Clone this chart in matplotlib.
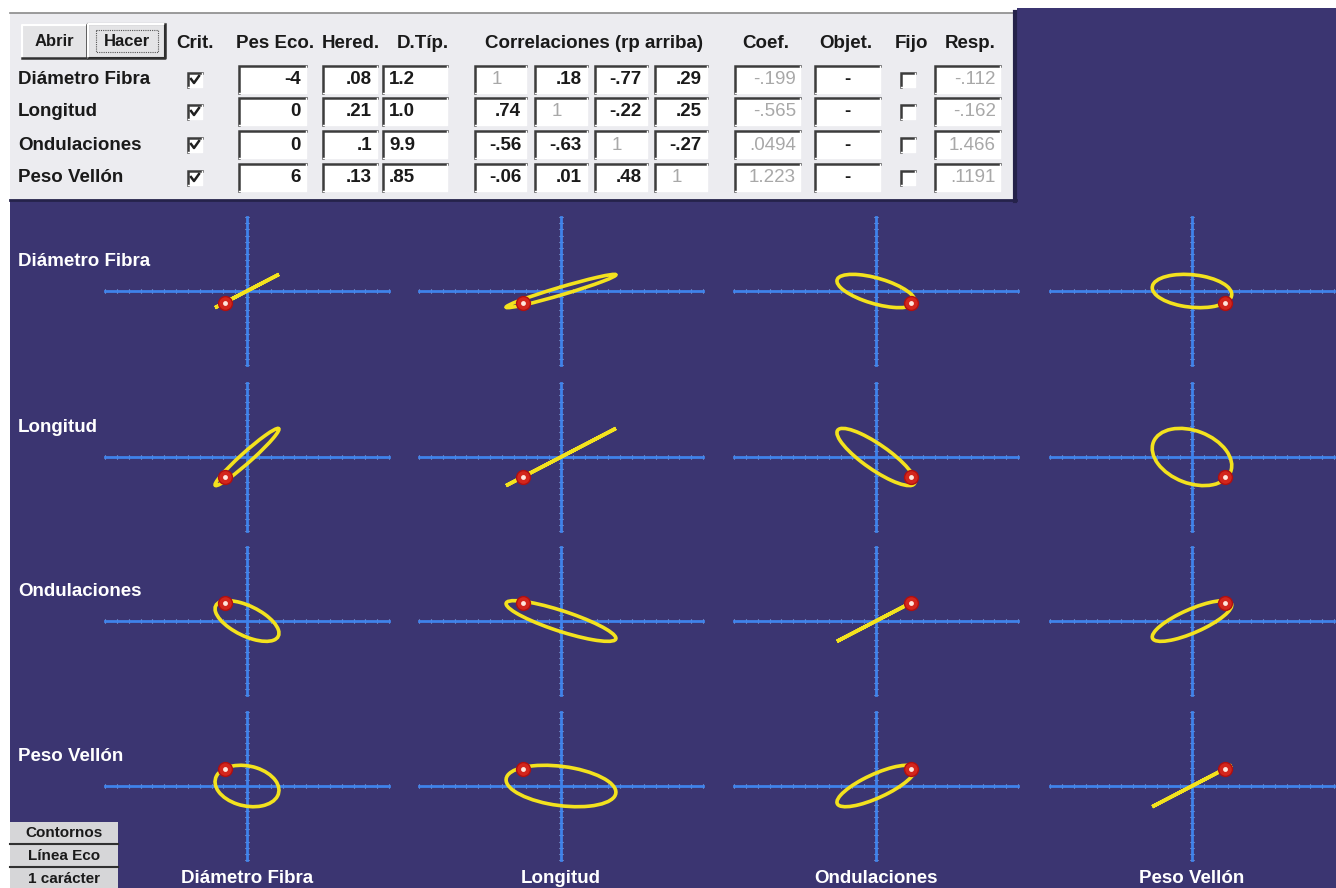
import numpy as np
import matplotlib.pyplot as plt
from matplotlib.patches import Rectangle, Ellipse

traits = ["Diámetro Fibra", "Longitud", "Ondulaciones", "Peso Vellón"]
crit = [True, True, True, True]
pes_eco = ["-4", "0", "0", "6"]
hered = [".08", ".21", ".1", ".13"]
d_tip = ["1.2", "1.0", "9.9", ".85"]
# rp above the diagonal, rg below
correl = [["1", ".18", "-.77", ".29"],
          [".74", "1", "-.22", ".25"],
          ["-.56", "-.63", "1", "-.27"],
          ["-.06", ".01", ".48", "1"]]
coef = ["-.199", "-.565", ".0494", "1.223"]
objet = ["-", "-", "-", "-"]
fijo = [False, False, False, False]
resp = ["-.112", "-.162", "1.466", ".1191"]
side_buttons = ["Contornos", "Línea Eco", "1 carácter"]

# largest standardized response per trait and correlation between responses
max_resp = [0.135, 0.232, 0.165, 0.168]
resp_corr = [[1.0, 0.97, -0.60, -0.20],
             [0.97, 1.0, -0.85, -0.30],
             [-0.60, -0.85, 1.0, 0.78],
             [-0.20, -0.30, 0.78, 1.0]]

W, H = 1336, 888
BG = "#3b3571"
PANEL = "#ececf0"
plt.rcParams["font.family"] = ["Liberation Sans", "DejaVu Sans"]

fig = plt.figure(figsize=(W / 100, H / 100), dpi=100, facecolor=BG)
ui = fig.add_axes([0, 0, 1, 1])
ui.set_xlim(0, W)
ui.set_ylim(H, 0)
ui.axis("off")
ui.set_facecolor("none")


def rect(x0, y0, x1, y1, fc):
    ui.add_patch(Rectangle((x0, y0), x1 - x0, y1 - y0, fc=fc, ec="none"))


def sunken(x0, x1, yc, h=27, fc="white"):
    y0, y1 = yc - h / 2, yc + h / 2
    rect(x0, y0, x1, y1, fc)
    ui.plot([x0, x0, x1], [y1, y0, y0], color="#3c3c3c", lw=1.8,
            solid_joinstyle="miter")
    ui.plot([x1, x1, x0], [y0, y1, y1], color="#ffffff", lw=1)


def raised(x0, y0, x1, y1, dark=False):
    rect(x0, y0, x1, y1, "#e4e4e6")
    ui.plot([x0, x0, x1], [y1, y0, y0], color="white", lw=1.5)
    ui.plot([x1, x1, x0], [y0, y1, y1], color="#303030", lw=1.8)
    if dark:
        ui.add_patch(Rectangle((x0, y0), x1 - x0, y1 - y0, fc="none",
                               ec="#202020", lw=1.5))


def checkbox(xc, yc, checked):
    sunken(xc - 7, xc + 7, yc, h=14)
    if checked:
        ui.plot([xc - 4, xc - 1, xc + 4], [yc - 1, yc + 3, yc - 4],
                color="#202020", lw=1.8)


# white margins and the control panel
rect(0, 0, W, 8, "white")
rect(0, 0, 10, H, "white")
rect(10, 8, 1017, 13, "white")
rect(10, 13, 1013, 200, PANEL)
ui.plot([10, 1013], [13.5, 13.5], color="#8a8a8a", lw=1.2)
ui.plot([1014.5, 1014.5], [12, 201], color="#25224a", lw=3)
ui.plot([10, 1016], [200, 200], color="#25224a", lw=2)

txt = dict(color="#1a1a1a", fontsize=13.5, fontweight="bold", va="center")
raised(22, 25, 87, 58)
ui.text(54.5, 41.5, "Abrir", ha="center", **{**txt, "fontsize": 12})
raised(88, 24, 165, 58, dark=True)
ui.add_patch(Rectangle((96, 30), 62, 22, fc="none", ec="#555555", lw=0.8,
                       ls=(0, (1, 1))))
ui.text(127, 41.5, "Hacer", ha="center", **{**txt, "fontsize": 12})

header_y = 43
headers = [("Crit.", 195), ("Pes Eco.", 275), ("Hered.", 351), ("D.Típ.", 423),
           ("Correlaciones (rp arriba)", 594), ("Coef.", 766), ("Objet.", 846),
           ("Fijo", 912), ("Resp.", 970)]
for label, xc in headers:
    ui.text(xc, header_y, label, ha="center", **txt)

row_y = [80, 112, 145, 178]
corr_boxes = [(475, 526), (535, 587), (595, 647), (655, 707)]
grey = "#a8a8a8"
for i, yc in enumerate(row_y):
    ui.text(18, yc, traits[i], ha="left", **txt)
    checkbox(195, yc, crit[i])
    sunken(239, 306, yc)
    ui.text(301, yc, pes_eco[i], ha="right", **txt)
    sunken(323, 377, yc)
    ui.text(372, yc, hered[i], ha="right", **txt)
    sunken(383, 447, yc)
    ui.text(389, yc, d_tip[i], ha="left", **txt)
    for j, (x0, x1) in enumerate(corr_boxes):
        sunken(x0, x1, yc)
        if i == j:
            ui.text(x0 + 22, yc, correl[i][j], ha="center",
                    **{**txt, "color": grey, "fontweight": "normal"})
        else:
            ui.text(x1 - 5, yc, correl[i][j], ha="right", **txt)
    sunken(735, 800, yc)
    ui.text(796, yc, coef[i], ha="right",
            **{**txt, "color": grey, "fontweight": "normal"})
    sunken(815, 880, yc)
    ui.text(847, yc, objet[i], ha="center", **txt)
    checkbox(908, yc, fijo[i])
    sunken(935, 1000, yc)
    ui.text(996, yc, resp[i], ha="right",
            **{**txt, "color": grey, "fontweight": "normal"})

# buttons in the lower left corner
for k, label in enumerate(side_buttons):
    y0 = 822 + k * 23
    rect(10, y0, 118, y0 + 21, "#d6d6d8")
    ui.plot([10, 118], [y0 + 21.5, y0 + 21.5], color="#303030", lw=1.5)
    ui.text(64, y0 + 10.5, label, ha="center", va="center", color="#1a1a1a",
            fontsize=11, fontweight="bold")

# response ellipses for every pair of traits
col_c = [247, 561, 876, 1192]
row_c = [291, 457, 621, 786]
half_w, half_h = 142, 74
lim = 0.6
resp_std = [float(r) / float(s) for r, s in zip(resp, d_tip)]

for i in range(4):
    ui.text(18, row_c[i] - 30, traits[i], color="white", fontsize=13.5,
            fontweight="bold", va="center", ha="left")
    for j in range(4):
        ax = fig.add_axes([(col_c[j] - half_w) / W, 1 - (row_c[i] + half_h) / H,
                           2 * half_w / W, 2 * half_h / H])
        ax.set_xlim(-lim, lim)
        ax.set_ylim(-lim, lim)
        ax.patch.set_visible(False)
        for side in ("top", "right"):
            ax.spines[side].set_visible(False)
        for side in ("left", "bottom"):
            ax.spines[side].set_position("zero")
            ax.spines[side].set_color("#3f82ea")
            ax.spines[side].set_linewidth(2)
        ticks = np.arange(-12, 13) * 0.05
        ax.set_xticks(ticks)
        ax.set_yticks(ticks)
        ax.tick_params(direction="inout", length=3, width=0.8, colors="#8fbaf5",
                       labelbottom=False, labelleft=False)

        sx, sy, r = max_resp[j], max_resp[i], resp_corr[i][j]
        cov = np.array([[sx * sx, r * sx * sy], [r * sx * sy, sy * sy]])
        vals, vecs = np.linalg.eigh(cov)
        angle = np.degrees(np.arctan2(vecs[1, 1], vecs[0, 1]))
        ax.add_patch(Ellipse((0, 0), 2 * np.sqrt(vals[1]),
                             2 * np.sqrt(max(vals[0], 0)), angle=angle,
                             fill=False, ec="#f3e21e", lw=2.6, zorder=4))
        ax.plot(resp_std[j], resp_std[i], "o", ms=10, color="#d3261c",
                mec="#b01010", zorder=5, clip_on=False)
        ax.plot(resp_std[j], resp_std[i], "o", ms=3.5, color="#ffe6dc",
                mec="none", zorder=6, clip_on=False)

for j in range(4):
    ui.text(col_c[j], 878, traits[j], color="white", fontsize=13.5,
            fontweight="bold", ha="center", va="center")

fig.savefig("out.png", dpi=100, facecolor=BG)
